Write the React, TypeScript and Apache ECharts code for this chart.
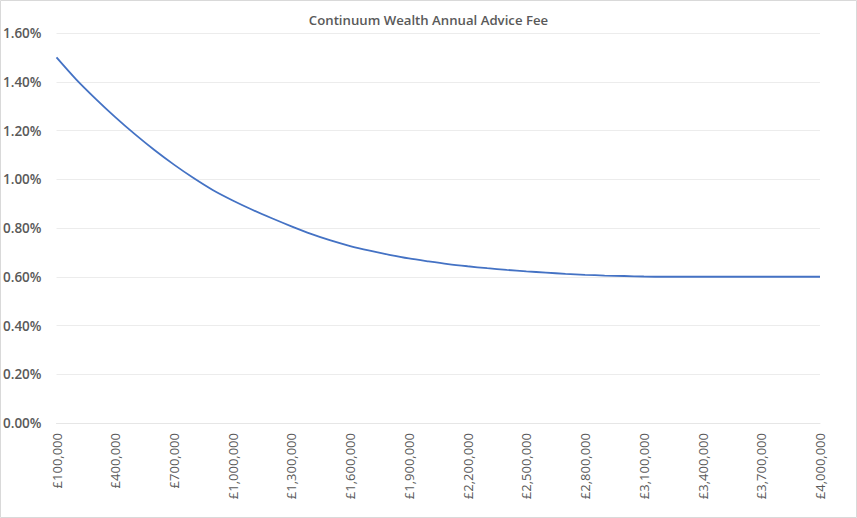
import React, { useEffect, useRef } from "react";
import * as echarts from "echarts";

const title = "Continuum Wealth Annual Advice Fee";

// Portfolio values (£), every £100,000 from £100,000 to £4,000,000
const portfolioValues: number[] = [
  100000, 200000, 300000, 400000, 500000, 600000, 700000, 800000, 900000, 1000000,
  1100000, 1200000, 1300000, 1400000, 1500000, 1600000, 1700000, 1800000, 1900000, 2000000,
  2100000, 2200000, 2300000, 2400000, 2500000, 2600000, 2700000, 2800000, 2900000, 3000000,
  3100000, 3200000, 3300000, 3400000, 3500000, 3600000, 3700000, 3800000, 3900000, 4000000,
];

// Annual advice fee (%)
const feePercent: number[] = [
  1.5, 1.41, 1.33, 1.255, 1.185, 1.12, 1.06, 1.005, 0.955, 0.913,
  0.875, 0.84, 0.807, 0.776, 0.749, 0.726, 0.707, 0.69, 0.675, 0.663,
  0.652, 0.643, 0.635, 0.628, 0.622, 0.617, 0.612, 0.608, 0.605, 0.603,
  0.601, 0.6, 0.6, 0.6, 0.6, 0.6, 0.6, 0.6, 0.6, 0.6,
];

const yTicks = { min: 0, max: 1.6, interval: 0.2 };

const fmtGBP = (v: number) => "£" + v.toLocaleString("en-GB");

export default function App() {
  const ref = useRef<HTMLDivElement>(null);
  useEffect(() => {
    if (!ref.current) return;
    const chart = echarts.init(ref.current, null, { renderer: "svg" });
    chart.setOption({
      animation: false,
      backgroundColor: "#ffffff",
      title: {
        text: title,
        left: "center",
        top: 8,
        textStyle: {
          fontFamily: "Open Sans",
          fontSize: 13.2,
          fontWeight: 600,
          color: "#595959",
        },
      },
      graphic: [
        {
          type: "rect",
          shape: { x: 0.5, y: 0.5, width: 856, height: 517 },
          style: { fill: "none", stroke: "#d9d9d9", lineWidth: 1 },
          silent: true,
        },
      ],
      grid: { left: 54, right: 37, top: 33, bottom: 95, containLabel: false },
      xAxis: {
        type: "category",
        boundaryGap: false,
        data: portfolioValues.map(fmtGBP),
        axisLine: { show: true, lineStyle: { color: "#e6e6e6" } },
        axisTick: { show: false },
        splitLine: { show: false },
        axisLabel: {
          interval: 2,
          rotate: 90,
          margin: 10,
          fontFamily: "Open Sans",
          fontSize: 13,
          color: "#595959",
        },
      },
      yAxis: {
        type: "value",
        min: yTicks.min,
        max: yTicks.max,
        interval: yTicks.interval,
        axisLine: { show: false },
        axisTick: { show: false },
        splitLine: { show: true, lineStyle: { color: "#ececec", width: 1 } },
        axisLabel: {
          formatter: (v: number) => v.toFixed(2) + "%",
          margin: 15,
          fontFamily: "Open Sans",
          fontSize: 13.5,
          fontWeight: 600,
          color: "#595959",
        },
      },
      series: [
        {
          type: "line",
          data: feePercent,
          smooth: 0.3,
          showSymbol: false,
          symbol: "none",
          lineStyle: { color: "#4472C4", width: 1.8 },
        },
      ],
    });
    return () => chart.dispose();
  }, []);
  return (
    <div style={{ position: "fixed", left: 0, top: 0, width: 857, height: 518 }}>
      <div ref={ref} style={{ width: 857, height: 518 }} />
    </div>
  );
}
